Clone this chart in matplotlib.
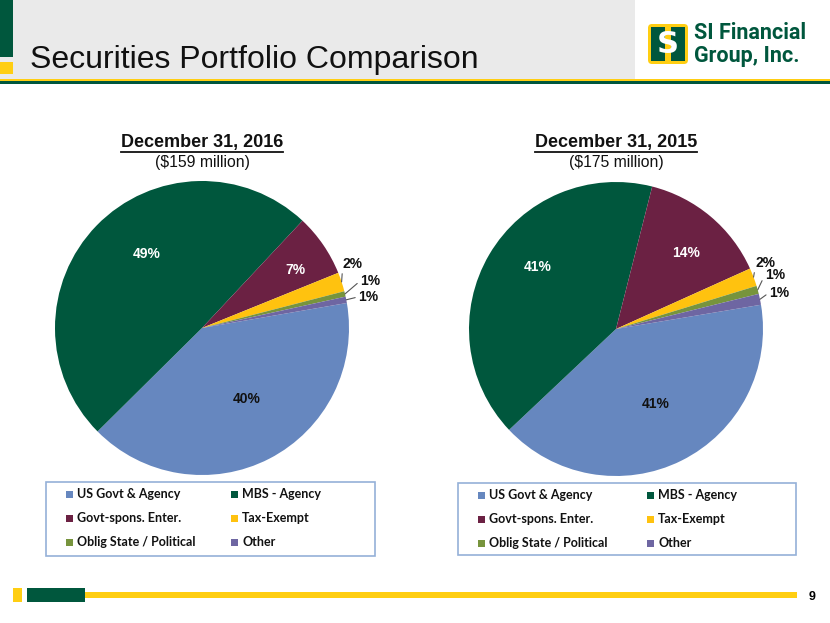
import numpy as np
import matplotlib
matplotlib.use("Agg")
import matplotlib.pyplot as plt
from matplotlib.patches import Rectangle, FancyBboxPatch

# ---- data ----
categories = ['US Govt & Agency', 'MBS - Agency', 'Govt-spons. Enter.',
              'Tax-Exempt', 'Oblig State / Political', 'Other']
values_2016 = [40.3, 49.4, 6.9, 2.1, 0.6, 0.7]
values_2015 = [40.6, 41.0, 14.3, 2.0, 0.9, 1.2]
titles = ['December 31, 2016', 'December 31, 2015']
subtitles = ['($159 million)', '($175 million)']

colors = ['#6687BF', '#00573D', '#6B2143', '#FFC20F', '#77943D', '#6E66A2']
GREEN = '#00573D'
YELLOW = '#FFCE12'

W, H = 830, 623
fig = plt.figure(figsize=(W / 100, H / 100), dpi=100)
fig.patch.set_facecolor('white')

# full-figure axes in pixel coordinates for the decoration
bg = fig.add_axes([0, 0, 1, 1])
bg.set_xlim(0, W)
bg.set_ylim(H, 0)
bg.axis('off')

# header
bg.add_patch(Rectangle((0, 0), W, 79, color='#EAEAEA', lw=0))
bg.add_patch(Rectangle((635, 0), W - 635, 79, color='white', lw=0))
bg.add_patch(Rectangle((0, 0), 13, 57, color=GREEN, lw=0))
bg.add_patch(Rectangle((0, 62), 13, 12, color=YELLOW, lw=0))
bg.add_patch(Rectangle((0, 78.5), W, 2.5, color=YELLOW, lw=0))
bg.add_patch(Rectangle((0, 81), W, 2.5, color=GREEN, lw=0))
bg.text(30, 60, 'Securities Portfolio Comparison', fontsize=23,
        family='Liberation Sans', color='#111111', va='center', ha='left')

# logo
bg.add_patch(FancyBboxPatch((648, 24), 40, 40, boxstyle='round,pad=0,rounding_size=4',
                            fc=YELLOW, ec='none'))
bg.add_patch(Rectangle((651, 27), 34, 34, color=GREEN, lw=0))
bg.add_patch(Rectangle((665, 26), 6, 36, color=YELLOW, lw=0))
bg.text(668, 44.5, 'S', fontsize=22, fontweight='bold', color='white',
        family='DejaVu Sans', ha='center', va='center')
bg.text(694, 33, 'SI Financial', fontsize=15.5, fontweight='bold', color=GREEN,
        family='Roboto', ha='left', va='center')
bg.text(694, 56, 'Group, Inc.', fontsize=15.5, fontweight='bold', color=GREEN,
        family='Roboto', ha='left', va='center')

# footer
bg.add_patch(Rectangle((13, 588), 9, 14, color=YELLOW, lw=0))
bg.add_patch(Rectangle((27, 588), 58, 14, color=GREEN, lw=0))
bg.add_patch(Rectangle((85, 592), 712, 6, color=YELLOW, lw=0))
bg.text(812, 597, '9', fontsize=9, fontweight='bold', family='Liberation Sans',
        ha='center', va='center')

# ---- pies ----
pies = [
    dict(cx=202, cy=328, r=147, vals=values_2016, start=9.8,
         inner={0: (0.57, -58, '#111111'), 1: (0.63, 127, 'white'), 2: (0.75, 32, 'white')},
         outer={3: (1.115, 23.0), 4: (1.187, 15.6), 5: (1.149, 10.6)},
         legend=(46, 482, 329, 74), colgap=165),
    dict(cx=616, cy=329, r=147, vals=values_2015, start=9.5,
         inner={0: (0.575, -62, '#111111'), 1: (0.68, 141.5, 'white'), 2: (0.70, 47.4, 'white')},
         outer={3: (1.115, 23.8), 4: (1.142, 18.8), 5: (1.135, 12.5)},
         legend=(458, 483, 338, 72), colgap=169),
]

renderer = fig.canvas.get_renderer()

for k, p in enumerate(pies):
    cx, cy, r = p['cx'], p['cy'], p['r']
    ax = fig.add_axes([(cx - r) / W, 1 - (cy + r) / H, 2 * r / W, 2 * r / H])
    wedges, _ = ax.pie(p['vals'], colors=colors, startangle=p['start'],
                       counterclock=False, radius=1,
                       wedgeprops=dict(linewidth=0))
    ax.set_xlim(-1, 1)
    ax.set_ylim(-1, 1)
    ax.set_aspect('equal')
    ax.axis('off')

    for i, (rr, ang, col) in p['inner'].items():
        a = np.deg2rad(ang)
        ax.text(rr * np.cos(a), rr * np.sin(a), '%.0f%%' % p['vals'][i],
                ha='center', va='center', fontsize=10, fontweight='bold',
                family='Liberation Sans', color=col)

    for i, (rr, ang) in p['outer'].items():
        w = wedges[i]
        mid = np.deg2rad((w.theta1 + w.theta2) / 2)
        a = np.deg2rad(ang)
        ax.annotate('%.0f%%' % max(p['vals'][i], 1),
                    xy=(np.cos(mid), np.sin(mid)),
                    xytext=(rr * np.cos(a), rr * np.sin(a)),
                    ha='center', va='center', fontsize=10, fontweight='bold',
                    family='Liberation Sans', color='#111111',
                    arrowprops=dict(arrowstyle='-', color='#555555', lw=0.8,
                                    shrinkA=0, shrinkB=0, relpos=(0, 0.5)),
                    annotation_clip=False)

    # titles
    t = bg.text(cx, 142, titles[k], fontsize=13, fontweight='bold',
                family='Liberation Sans', ha='center', va='center', color='#111111')
    bb = t.get_window_extent(renderer)
    (x0, y0), (x1, y1) = bg.transData.inverted().transform([[bb.x0, bb.y0], [bb.x1, bb.y1]])
    bg.plot([x0, x1], [y0 + 1.5, y0 + 1.5], color='#111111', lw=1.3)
    bg.text(cx, 163, subtitles[k], fontsize=11.3, family='Liberation Sans',
            ha='center', va='center', color='#111111')

    # legend box
    lx, ly, lw_, lh = p['legend']
    bg.add_patch(Rectangle((lx, ly), lw_, lh, fill=False, ec='#95B0D8', lw=1.2))
    for j, name in enumerate(categories):
        row, col = j // 2, j % 2
        sx = lx + 20 + col * p['colgap']
        sy = ly + 12 + row * 24
        bg.add_patch(Rectangle((sx, sy - 3.5), 7, 7, color=colors[j], lw=0))
        bg.text(sx + 11, sy, name, fontsize=9, fontweight='bold', family='Lato',
                ha='left', va='center', color='#111111')

fig.savefig('out.png', dpi=100)
